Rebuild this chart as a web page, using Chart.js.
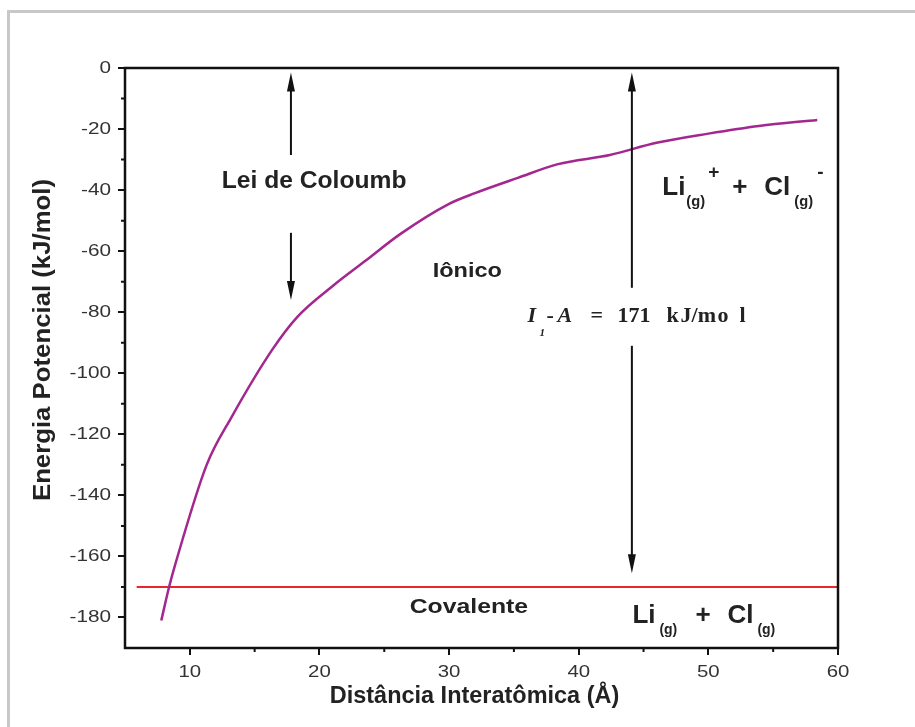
<!DOCTYPE html>
<html>
<head>
<meta charset="utf-8">
<script src="https://cdn.jsdelivr.net/npm/chart.js@4.4.0/dist/chart.umd.min.js"></script>
<style>
    html, body { margin: 0; padding: 0; background: #fff; }
    #wrap { width: 915px; height: 727px; }
</style>
</head>
<body>
<div id="wrap"><canvas id="chart" width="915" height="727"></canvas></div>
<script>
// Potential energy curve (ionic)
const distance = [7.8, 8.4, 8.85, 11.3, 13.2, 16.4, 18.3, 21.0, 23.6, 26.2, 30.0, 32.0, 35.3, 38.4, 42.4, 46.0, 50.0, 53.9, 58.4];
const energy = [-181, -170, -163, -130, -114.5, -92, -81.5, -71.5, -63, -54.5, -44.5, -41, -36, -31.5, -28.5, -24.5, -21.5, -19, -17];

// Covalent level
const covalentX = [5.9, 60];
const covalentY = [-170, -170];

const xTicks = [10, 20, 30, 40, 50, 60];
const yTicks = [0, -20, -40, -60, -80, -100, -120, -140, -160, -180];

const SANS = '"Liberation Sans", Arial, sans-serif';
const SERIF = '"Liberation Serif", "Times New Roman", serif';
const TEXT = '#222';

/**
 * Draws a text with an optional horizontal stretch and rotation.
 */
function drawText(ctx, str, x, y, font, opts = {}) {
    ctx.save();
    ctx.font = font;
    ctx.fillStyle = opts.color || TEXT;
    ctx.textAlign = opts.align || 'left';
    ctx.textBaseline = opts.baseline || 'alphabetic';
    ctx.translate(x, y);
    if (opts.rotate) ctx.rotate(opts.rotate);
    ctx.scale(opts.sx || 1, 1);
    ctx.fillText(str, 0, 0);
    ctx.restore();
}

/**
 * Draws the outer frame, box, minor ticks, labels, arrows and annotations.
 */
const decorPlugin = {
    id: 'decor',
    beforeDraw(chart) {
        const ctx = chart.ctx;
        ctx.save();
        ctx.fillStyle = '#fff';
        ctx.fillRect(0, 0, chart.width, chart.height);
        ctx.strokeStyle = '#c8c8c8';
        ctx.lineWidth = 3;
        ctx.beginPath();
        ctx.moveTo(8.5, chart.height);
        ctx.lineTo(8.5, 11.5);
        ctx.lineTo(chart.width, 11.5);
        ctx.stroke();
        ctx.restore();
    },
    afterDraw(chart) {
        const ctx = chart.ctx;
        const xs = chart.scales.x;
        const ys = chart.scales.y;
        const a = chart.chartArea;
        ctx.save();

        // box
        ctx.strokeStyle = '#111';
        ctx.lineWidth = 2.5;
        ctx.strokeRect(a.left, a.top, a.right - a.left, a.bottom - a.top);

        // minor ticks
        ctx.lineWidth = 2;
        ctx.beginPath();
        for (let v = 15; v < 60; v += 10) {
            const px = xs.getPixelForValue(v);
            ctx.moveTo(px, a.bottom);
            ctx.lineTo(px, a.bottom + 4);
        }
        for (let v = -10; v > -190; v -= 20) {
            const py = ys.getPixelForValue(v);
            ctx.moveTo(a.left, py);
            ctx.lineTo(a.left - 4, py);
        }
        ctx.stroke();

        // tick labels
        const tickFont = '17px ' + SANS;
        xTicks.forEach(v => {
            drawText(ctx, String(v), xs.getPixelForValue(v), a.bottom + 24, tickFont,
                { align: 'center', baseline: 'middle', sx: 1.2, color: '#333' });
        });
        yTicks.forEach(v => {
            drawText(ctx, String(v), a.left - 14, ys.getPixelForValue(v), tickFont,
                { align: 'right', baseline: 'middle', sx: 1.22, color: '#333' });
        });

        // axis titles
        drawText(ctx, 'Distância Interatômica (Å)', (a.left + a.right) / 2 - 7, a.bottom + 49,
            'bold 23px ' + SANS, { align: 'center', baseline: 'middle', sx: 1.02 });
        drawText(ctx, 'Energia Potencial (kJ/mol)', 44, (a.top + a.bottom) / 2 - 18,
            'bold 23px ' + SANS, { align: 'center', baseline: 'middle', sx: 1.12, rotate: -Math.PI / 2 });

        // arrows
        const arrow = (x, y1, y2) => {
            const px = xs.getPixelForValue(x);
            const p1 = ys.getPixelForValue(y1);
            const p2 = ys.getPixelForValue(y2);
            const dir = Math.sign(p2 - p1);
            ctx.strokeStyle = '#111';
            ctx.fillStyle = '#111';
            ctx.lineWidth = 2;
            ctx.beginPath();
            ctx.moveTo(px, p1);
            ctx.lineTo(px, p2 - dir * 14);
            ctx.stroke();
            ctx.beginPath();
            ctx.moveTo(px, p2);
            ctx.lineTo(px - 4, p2 - dir * 19);
            ctx.lineTo(px + 4, p2 - dir * 19);
            ctx.closePath();
            ctx.fill();
        };
        arrow(17.8, -28.5, -1.5);
        arrow(17.8, -54, -76);
        arrow(44.1, -72, -1.5);
        arrow(44.1, -91, -165.5);

        // plain labels
        drawText(ctx, 'Lei de Coloumb', xs.getPixelForValue(12.47), ys.getPixelForValue(-39.3),
            'bold 23px ' + SANS, { sx: 1.07 });
        drawText(ctx, 'Iônico', xs.getPixelForValue(28.73), ys.getPixelForValue(-68.5),
            'bold 21px ' + SANS, { sx: 1.12 });
        drawText(ctx, 'Covalente', xs.getPixelForValue(26.96), ys.getPixelForValue(-178.5),
            'bold 21px ' + SANS, { sx: 1.18 });

        // Li(g)+ + Cl(g)-
        const big = 'bold 26px ' + SANS;
        const sub = 'bold 14px ' + SANS;
        const sup = 'bold 19px ' + SANS;
        let x0 = xs.getPixelForValue(46.45);
        let y0 = ys.getPixelForValue(-41.6);
        drawText(ctx, 'Li', x0, y0, big);
        drawText(ctx, '(g)', x0 + 24, y0 + 11, sub, { sx: 1.05 });
        drawText(ctx, '+', x0 + 46, y0 - 17, sup);
        drawText(ctx, '+', x0 + 70, y0, big);
        drawText(ctx, 'Cl', x0 + 102, y0, big);
        drawText(ctx, '(g)', x0 + 132, y0 + 11, sub, { sx: 1.05 });
        drawText(ctx, '-', x0 + 155, y0 - 17, sup);

        // Li(g) + Cl(g)
        x0 = xs.getPixelForValue(44.14);
        y0 = ys.getPixelForValue(-181.8);
        drawText(ctx, 'Li', x0, y0, big);
        drawText(ctx, '(g)', x0 + 27, y0 + 11, sub);
        drawText(ctx, '+', x0 + 63, y0, big);
        drawText(ctx, 'Cl', x0 + 95, y0, big);
        drawText(ctx, '(g)', x0 + 125, y0 + 11, sub);

        // I1 - A = 171 kJ/mol
        x0 = xs.getPixelForValue(36.05);
        y0 = ys.getPixelForValue(-83.2);
        const serifB = 'bold 22px ' + SERIF;
        const serifI = 'italic bold 22px ' + SERIF;
        drawText(ctx, 'I', x0, y0, serifI);
        drawText(ctx, '1', x0 + 12, y0 + 14, 'italic bold 11px ' + SERIF);
        drawText(ctx, '-', x0 + 19, y0, serifB);
        drawText(ctx, 'A', x0 + 30, y0, serifI);
        drawText(ctx, '=', x0 + 63, y0, serifB);
        drawText(ctx, '171', x0 + 90, y0, serifB);
        drawText(ctx, 'k', x0 + 139, y0, serifB);
        drawText(ctx, 'J/m', x0 + 153, y0, serifB);
        drawText(ctx, 'o', x0 + 190, y0, serifB);
        drawText(ctx, 'l', x0 + 212, y0, serifB);

        ctx.restore();
    }
};

new Chart(document.getElementById('chart'), {
    type: 'scatter',
    data: {
        datasets: [
            {
                label: 'Iônico',
                data: distance.map((d, i) => ({ x: d, y: energy[i] })),
                showLine: true,
                borderColor: '#a3278f',
                borderWidth: 2.5,
                pointRadius: 0,
                cubicInterpolationMode: 'monotone'
            },
            {
                label: 'Covalente',
                data: covalentX.map((d, i) => ({ x: d, y: covalentY[i] })),
                showLine: true,
                borderColor: '#e8262b',
                borderWidth: 2,
                pointRadius: 0
            }
        ]
    },
    plugins: [decorPlugin],
    options: {
        responsive: false,
        animation: false,
        layout: { padding: { left: 20, right: 77, top: 68, bottom: 0 } },
        plugins: {
            legend: { display: false },
            tooltip: { enabled: false }
        },
        scales: {
            x: {
                type: 'linear',
                min: 5,
                max: 60,
                afterFit: (scale) => { scale.height = 79; },
                afterBuildTicks: (scale) => { scale.ticks = xTicks.map(v => ({ value: v })); },
                ticks: { display: false },
                grid: {
                    drawOnChartArea: false,
                    drawTicks: true,
                    tickLength: 7,
                    color: '#111',
                    lineWidth: 2
                },
                border: { display: false }
            },
            y: {
                type: 'linear',
                min: -190,
                max: 0,
                afterFit: (scale) => { scale.width = 105; },
                afterBuildTicks: (scale) => { scale.ticks = yTicks.map(v => ({ value: v })); },
                ticks: { display: false },
                grid: {
                    drawOnChartArea: false,
                    drawTicks: true,
                    tickLength: 7,
                    color: '#111',
                    lineWidth: 2
                },
                border: { display: false }
            }
        }
    }
});
</script>
</body>
</html>
